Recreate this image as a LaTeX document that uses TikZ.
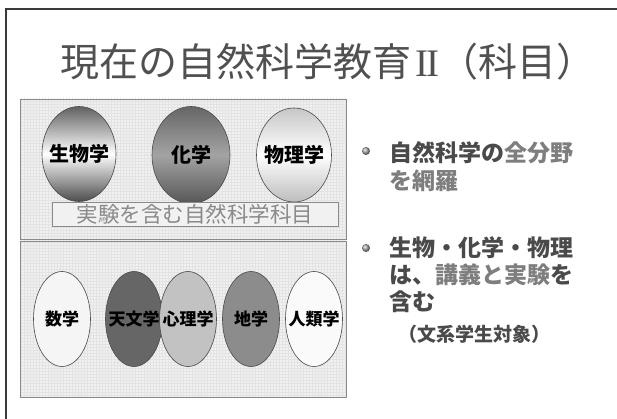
\documentclass[tikz,border=0pt]{standalone}
\usepackage{fontspec}
\setmainfont{Noto Sans CJK JP}
\newfontfamily\jpfont{Noto Sans CJK JP}
\newfontfamily\romanfont{Liberation Serif}
\usetikzlibrary{shapes.geometric,patterns}
\definecolor{framec}{HTML}{3A3A3A}
\definecolor{titlec}{HTML}{505050}
\definecolor{panelfill}{HTML}{F1F1F1}
\definecolor{panelgrid}{HTML}{E3E3E3}
\definecolor{panelline}{HTML}{8A8A8A}
\definecolor{ellline}{HTML}{4A4A4A}
\definecolor{darktxt}{HTML}{4A4A4A}
\definecolor{lighttxt}{HTML}{7E7E7E}
\definecolor{labeltxt}{HTML}{8A8A8A}
\newcommand{\zw}[1]{\makebox[0pt]{#1}}
\tikzset{
  panel/.style={draw=panelline, line width=0.9pt},
  oval/.style={ellipse, draw=ellline, line width=0.6pt, inner sep=0pt,
     font=\jpfont\bfseries\fontsize{20}{22}\selectfont, text=black},
  smalloval/.style={oval, minimum width=57pt, minimum height=95pt,
     font=\jpfont\bfseries\fontsize{17}{19}\selectfont},
  bullettxt/.style={anchor=west, inner sep=0pt, text=darktxt,
     font=\jpfont\bfseries\fontsize{23}{25}\selectfont},
  bulletdot/.style={circle, inner sep=0pt, minimum size=8pt, ball color=gray!70},
}
\begin{document}
\begin{tikzpicture}[x=1pt,y=-1pt]
\useasboundingbox (0,0) rectangle (617,419);
\fill[white] (0,0) rectangle (617,419);
% frame
\draw[framec, line width=2.2pt] (6,419) -- (6,9) -- (617,9);
% title
\node[text=titlec, font=\jpfont\fontsize{39}{42}\selectfont, inner sep=0pt] (title) at (328,62) {現在の自然科学教育\kern0.1em{\romanfont I\kern-0.06em I}（科目）};
% panels
\fill[panelfill] (20,99) rectangle (346,397);
\fill[pattern=grid, pattern color=panelgrid] (20,99) rectangle (346,397);
\draw[panel] (20,99) rectangle (346,239);
\draw[panel] (20,241) rectangle (346,397);
% upper ellipses
\node[oval, minimum width=74pt, minimum height=95pt,
  top color=black!62, bottom color=black!70, middle color=white] (bio) at (79,154) {\zw{生物学}};
\node[oval, minimum width=78pt, minimum height=97pt,
  top color=black!60, bottom color=black!66, middle color=black!36] (chem) at (191,155) {\zw{化学}};
\node[oval, minimum width=75pt, minimum height=94pt,
  top color=black!22, bottom color=black!26, middle color=white] (phys) at (294,155) {\zw{物理学}};
% label box
\node[draw=panelline, fill=panelfill, line width=0.8pt, minimum width=286pt, minimum height=24pt,
  inner sep=0pt, text=labeltxt, font=\jpfont\fontsize{21.5}{23}\selectfont] (lab) at (195,214) {\zw{実験を含む自然科学科目}};
% lower ellipses
\node[smalloval, fill=black!4] (math) at (62,319) {\zw{数学}};
\node[smalloval, fill=black!60] (astro) at (134,319) {\zw{天文学}};
\node[smalloval, fill=black!24] (psych) at (188,319) {\zw{心理学}};
\node[smalloval, fill=black!45] (geo) at (251,319) {\zw{地学}};
\node[smalloval, fill=black!2] (anth) at (314,319) {\zw{人類学}};
% bullets
\node[bulletdot] (b1) at (366,151) {};
\node[bulletdot] (b2) at (366,248) {};
\node[bullettxt] (t1) at (389,153) {自然科学の\textcolor{lighttxt}{全分野}};
\node[bullettxt, text=lighttxt] (t2) at (389,181) {を網羅};
\node[bullettxt] (t3) at (389,248) {生物・化学・物理};
\node[bullettxt] (t4) at (389,275) {は、\textcolor{lighttxt}{講義と実験}を};
\node[bullettxt] (t5) at (389,302) {含む};
\node[bullettxt, font=\jpfont\bfseries\fontsize{19}{21}\selectfont] (t6) at (398,334) {（文系学生対象）};
\end{tikzpicture}
\end{document}
